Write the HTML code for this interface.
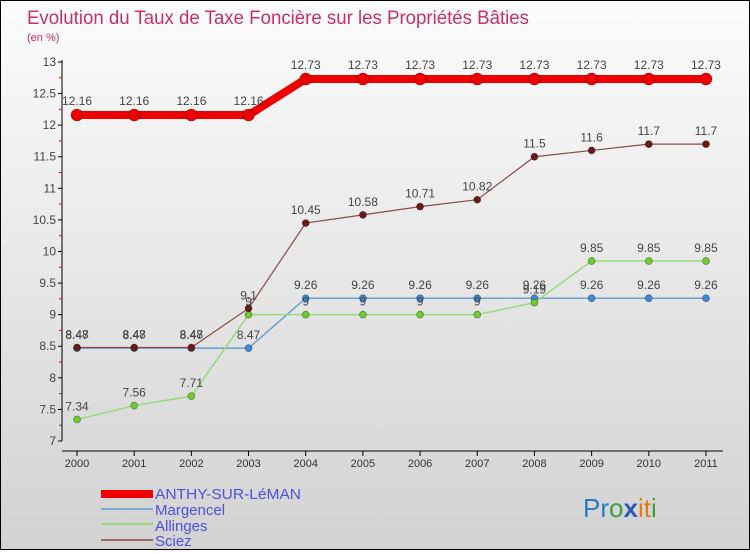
<!DOCTYPE html>
<html><head><meta charset="utf-8"><style>
body{margin:0}
#c{width:748px;height:548px;border:1px solid #000;background:linear-gradient(#fcfcfc,#d2d2d2);position:relative;font-family:"Liberation Sans",sans-serif}
</style></head><body>
<div id="c">
<svg id="s" width="748" height="548" xmlns="http://www.w3.org/2000/svg" font-family="Liberation Sans, sans-serif">
<text x="26" y="23" font-size="19" fill="#c8306a" textLength="502" lengthAdjust="spacingAndGlyphs">Evolution du Taux de Taxe Foncière sur les Propriétés Bâties</text>
<text x="26" y="40" font-size="11" fill="#c8306a">(en %)</text>
<g id="g"></g>
<g font-size="15" fill="#5050e0">
<rect x="100" y="489" width="52" height="8" fill="#e00"/>
<text x="154" y="498" textLength="146" lengthAdjust="spacingAndGlyphs">ANTHY-SUR-LéMAN</text>
<rect x="100" y="507" width="52" height="2" fill="#7aaad0"/>
<text x="154" y="514">Margencel</text>
<rect x="100" y="522" width="52" height="2" fill="#9ad880"/>
<text x="154" y="530">Allinges</text>
<rect x="100" y="538" width="52" height="2" fill="#9a6a6a"/>
<text x="154" y="545">Sciez</text>
</g>
<g font-size="26">
<text x="582" y="516"><tspan fill="#2a7ac8">Pr</tspan><tspan fill="#3aa040">o</tspan><tspan fill="#2a5ab8" font-weight="bold">x</tspan><tspan fill="#e07a10">it</tspan><tspan fill="#3aa040">i</tspan></text>
</g>
</svg>
</div>
<script>
const years=["2000","2001","2002","2003","2004","2005","2006","2007","2008","2009","2010","2011"];
const yTicks=[7,7.5,8,8.5,9,9.5,10,10.5,11,11.5,12,12.5,13];
const anthy=[12.16,12.16,12.16,12.16,12.73,12.73,12.73,12.73,12.73,12.73,12.73,12.73];
const margencel=[8.47,8.47,8.47,8.47,9.26,9.26,9.26,9.26,9.26,9.26,9.26,9.26];
const allinges=[7.34,7.56,7.71,9,9,9,9,9,9.19,9.85,9.85,9.85];
const sciez=[8.48,8.48,8.48,9.1,10.45,10.58,10.71,10.82,11.5,11.6,11.7,11.7];
const g=document.getElementById('g'),NS="http://www.w3.org/2000/svg";
const X=i=>76+i*57.18, Y=v=>440-(v-7)*63.17;
function mk(t,a,p){const e=document.createElementNS(NS,t);for(const k in a)e.setAttribute(k,a[k]);(p||g).appendChild(e);return e;}
let ax=mk('line',{x1:61,y1:59,x2:61,y2:440,stroke:'#000'});


let bx=mk('line',{x1:61,y1:450,x2:722,y2:450,stroke:'#000'});


yTicks.forEach(v=>{const y=Y(v);mk('line',{x1:57,y1:y,x2:61,y2:y,stroke:'#000'});
 if(v<13)mk('line',{x1:58,y1:Y(v+0.25),x2:61,y2:Y(v+0.25),stroke:'#e00'});
 const t=mk('text',{x:55,y:y+4,'text-anchor':'end','font-size':12,fill:'#444'});t.textContent=String(v);
 
 });
years.forEach((yr,i)=>{mk('line',{x1:X(i),y1:450,x2:X(i),y2:455,stroke:'#000'});
 const t=mk('text',{x:X(i),y:466,'text-anchor':'middle','font-size':11,fill:'#333'});t.textContent=yr;
 
 });
function series(d,name,lc,pc,sw,r,dy){
 const p=mk('polyline',{points:d.map((v,i)=>X(i)+','+Y(v)).join(' '),fill:'none',stroke:lc,'stroke-width':sw});
 
 
 d.forEach((v,i)=>{const c=mk('circle',{cx:X(i),cy:Y(v),r:r,fill:pc,stroke:'rgba(0,0,0,0.4)','stroke-width':0.7});
  
  
  const t=mk('text',{x:X(i),y:Y(v)-dy,'text-anchor':'middle','font-size':12,fill:'#444'});t.textContent=String(v);
  
  });
}
series(margencel,'margencel','#6aa0d0','#3a8ad8',1.5,3.5,9);
series(allinges,'allinges','#9ad880','#6acc30',1.5,3.5,9);
series(sciez,'sciez','#8a4a4a','#6a1a1a',1.2,3.5,9);
series(anthy,'anthy','#e00','#e00',8,6,10);
</script>
</body></html>
